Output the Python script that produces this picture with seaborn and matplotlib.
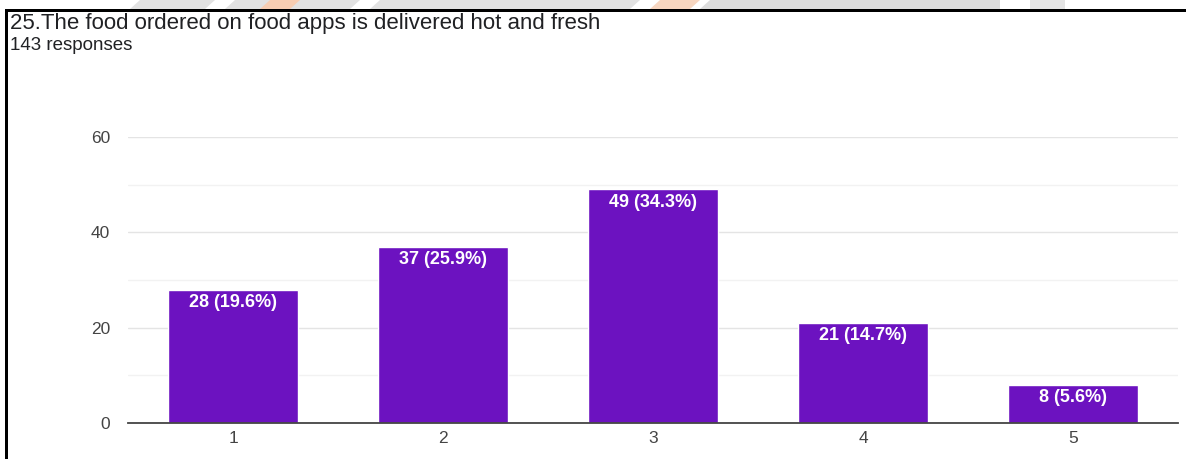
import matplotlib
matplotlib.use("Agg")
import matplotlib.pyplot as plt
import seaborn as sns
import pandas as pd
from matplotlib.patches import Polygon, Rectangle

categories = ["1", "2", "3", "4", "5"]
counts = [28, 37, 49, 21, 8]
labels = ["28 (19.6%)", "37 (25.9%)", "49 (34.3%)", "21 (14.7%)", "8 (5.6%)"]
yticks = [0, 20, 40, 60]
title = "25.The food ordered on food apps is delivered hot and fresh"
subtitle = "143 responses"

sns.set_theme(style="white")
plt.rcParams['font.family'] = ['Liberation Sans', 'DejaVu Sans']

W, H = 1186, 459
fig = plt.figure(figsize=(W / 100, H / 100), dpi=100)
fig.patch.set_facecolor("white")

def px(x, y):
    return (x / W, 1 - y / H)

# faint watermark strip at the top
for poly, col in [
    ([(140, 0), (215, 0), (205, 9), (130, 9)], "#e2e2e2"),
    ([(235, 0), (360, 0), (350, 9), (225, 9)], "#e2e2e2"),
    ([(270, 0), (300, 0), (290, 9), (260, 9)], "#f7cdb2"),
    ([(380, 0), (640, 0), (630, 9), (370, 9)], "#e2e2e2"),
    ([(660, 0), (700, 0), (690, 9), (650, 9)], "#f7d6c0"),
    ([(710, 0), (1000, 0), (1000, 9), (700, 9)], "#dddddd"),
    ([(1030, 0), (1065, 0), (1065, 9), (1030, 9)], "#e4e4e4"),
]:
    fig.patches.append(Polygon([px(a, b) for a, b in poly], closed=True,
                               transform=fig.transFigure, facecolor=col,
                               edgecolor="none", zorder=0))

# black frame lines (screenshot border)
fig.patches.append(Rectangle(px(5, 459), 3 / W, 449 / H, transform=fig.transFigure,
                             facecolor="black", edgecolor="none", zorder=5))
fig.patches.append(Rectangle(px(5, 12), (W - 5) / W, 3 / H, transform=fig.transFigure,
                             facecolor="black", edgecolor="none", zorder=5))

fig.text(10 / W, 1 - 23 / H, title, fontsize=16, color="#202124", va="center", ha="left")
fig.text(10 / W, 1 - 46 / H, subtitle, fontsize=13.5, color="#202124", va="center", ha="left")

ax = fig.add_axes([128 / W, 1 - 423 / H, 1050 / W, (423 - 137) / H])
df = pd.DataFrame({"option": categories, "count": counts})
sns.barplot(data=df, x="option", y="count", color="#6c12c0", saturation=1,
            width=0.615, ax=ax, zorder=3)

ax.set_ylim(0, 60)
ax.set_xlim(-0.5, len(categories) - 0.5)
ax.set_yticks(yticks)
ax.set_yticks([10, 30, 50], minor=True)
ax.grid(axis="y", which="major", color="#e4e4e4", linewidth=1, zorder=0)
ax.grid(axis="y", which="minor", color="#f2f2f2", linewidth=1, zorder=0)
ax.set_axisbelow(True)
for s in ["top", "right", "left"]:
    ax.spines[s].set_visible(False)
ax.spines["bottom"].set_color("#444444")
ax.spines["bottom"].set_linewidth(1.3)
ax.spines["bottom"].set_zorder(4)
ax.tick_params(axis="y", length=0, pad=13, labelsize=12.5, labelcolor="#444444")
ax.tick_params(axis="x", length=0, pad=6, labelsize=12.5, labelcolor="#444444")
ax.tick_params(axis="y", which="minor", length=0)
ax.set_xlabel("")
ax.set_ylabel("")
ax.set_facecolor("white")

for i, (c, lab) in enumerate(zip(counts, labels)):
    ax.annotate(lab, (i, c), xytext=(0, -3), textcoords="offset points",
                ha="center", va="top", color="white", fontsize=13,
                fontweight="bold", zorder=5)

fig.savefig("out.png", dpi=100, facecolor="white")
